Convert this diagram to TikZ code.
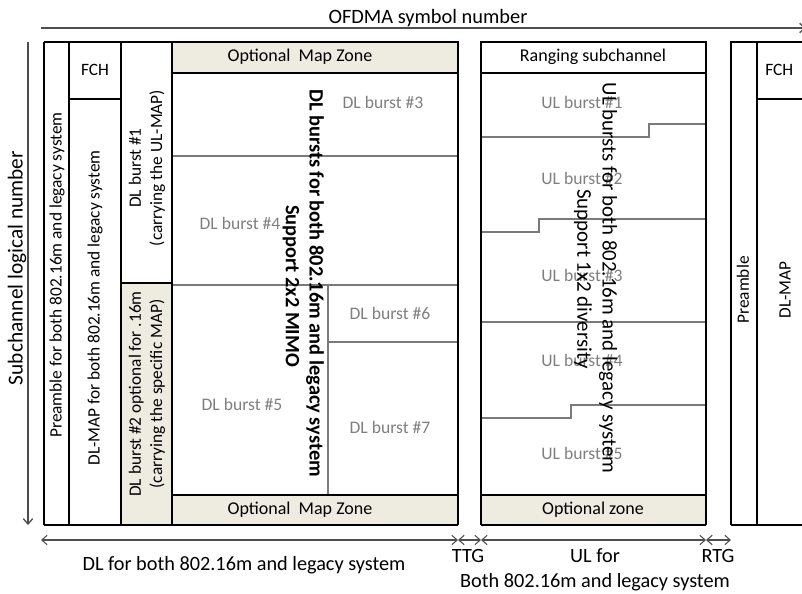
\documentclass[tikz,border=0pt]{standalone}
\usepackage{fontspec}
\setmainfont{Carlito}
\usetikzlibrary{arrows.meta}
\definecolor{zone}{HTML}{EEECE1}
\definecolor{burstgray}{HTML}{7F7F7F}
\definecolor{axisgray}{HTML}{4D4D4D}
\definecolor{linegray}{HTML}{7A7A7A}
\begin{document}
\begin{tikzpicture}[x=0.75pt,y=-0.75pt,
  frame/.style={draw=black,line width=1.5pt},
  heavy/.style={draw=black,line width=2.2pt},
  thinline/.style={draw=linegray,line width=0.8pt},
  axis/.style={draw=axisgray,line width=1pt},
  dim/.style={draw=axisgray,line width=0.8pt,{Straight Barb[length=4pt,width=7pt]}-{Straight Barb[length=4pt,width=7pt]}},
  lbl/.style={font=\fontsize{13.5}{15}\selectfont,inner sep=0pt},
  burst/.style={font=\fontsize{13.2}{15}\selectfont,text=burstgray,inner sep=0pt},
  side/.style={font=\fontsize{13}{16}\selectfont,inner sep=0pt,rotate=90,align=center},
  big/.style={font=\fontsize{15.3}{17}\selectfont\bfseries,inner sep=0pt,rotate=-90},
  bigr/.style={font=\fontsize{15.7}{17}\selectfont,inner sep=0pt,rotate=-90},
  bottom/.style={font=\fontsize{15.2}{17}\selectfont,inner sep=0pt}]
\useasboundingbox (0,0) rectangle (802,593);
% beige zones
\fill[zone] (172,42) rectangle (458,73);
\fill[zone] (172,495) rectangle (458,525);
\fill[zone] (121,283) rectangle (172,525);
\fill[zone] (481,495) rectangle (706,525);
% thin internal lines (DL)
\draw[thinline] (172,156) -- (458,156);
\draw[thinline] (172,285) -- (458,285);
\draw[thinline] (328,285) -- (328,495);
\draw[thinline] (328,342) -- (458,342);
% thin internal lines (UL)
\draw[thinline] (481,137) -- (649,137) -- (649,124) -- (706,124);
\draw[thinline] (481,232) -- (539,232) -- (539,219) -- (706,219);
\draw[thinline] (481,322) -- (706,322);
\draw[thinline] (481,418) -- (571,418) -- (571,405) -- (706,405);
% DL frame
\draw[frame] (44,42) -- (458,42) -- (458,525);
\draw[frame] (44,525) -- (44,42);
\draw[heavy] (44,525) -- (458,525);
\draw[frame] (69,42) -- (69,525);
\draw[frame] (121,42) -- (121,525);
\draw[frame] (172,42) -- (172,525);
\draw[frame] (172,73) -- (458,73);
\draw[frame] (172,495) -- (458,495);
\draw[frame] (121,283) -- (172,283);
\draw[draw=black,line width=1pt] (69,99) -- (121,99);
% UL frame
\draw[frame] (481,525) -- (481,42) -- (706,42) -- (706,525);
\draw[heavy] (481,525) -- (706,525);
\draw[frame] (481,73) -- (706,73);
\draw[frame] (481,495) -- (706,495);
% next frame (partial)
\draw[frame] (810,42) -- (731,42) -- (731,525);
\draw[heavy] (731,525) -- (810,525);
\draw[frame] (757,42) -- (757,525);
\draw[draw=black,line width=1pt] (757,99) -- (810,99);
% axes
\coordinate (topL) at (41,28);
\coordinate (topR) at (806,28);
\draw[axis,-{Straight Barb[length=4pt,width=7pt]}] (topL) -- (topR);
\node[lbl,font=\fontsize{15.3}{17}\selectfont] (ofdma) at (428,18) {OFDMA symbol number};
\coordinate (leftT) at (28,42);
\coordinate (leftB) at (28,525);
\draw[axis,-{Straight Barb[length=4pt,width=7pt]}] (leftT) -- (leftB);
\node[font=\fontsize{16}{18}\selectfont,inner sep=0pt,rotate=90] (subch) at (17,268) {Subchannel logical number};
% bottom dimension arrows
\coordinate (b0) at (41,540);
\coordinate (b1) at (458,540);
\coordinate (b2) at (481,540);
\coordinate (b3) at (706,540);
\coordinate (b4) at (731,540);
\draw[dim] (b0) -- (b1);
\draw[dim] (b1) -- (b2);
\draw[dim] (b2) -- (b3);
\draw[dim] (b3) -- (b4);
\node[bottom] (dlfor) at (244,565) {DL for both 802.16m and legacy system};
\node[bottom] (ttg) at (468,556) {TTG};
\node[bottom] (ulfor) at (595,556) {UL for};
\node[bottom] (both) at (595,582) {Both 802.16m and legacy system};
\node[bottom] (rtg) at (718,556) {RTG};
% DL left columns
\node[side] (pre) at (57,275) {Preamble for both 802.16m and legacy system};
\node[lbl,font=\fontsize{13}{15}\selectfont] (fch) at (95,70) {FCH};
\node[side] (dlmap) at (95,308) {DL-MAP for both 802.16m and legacy system};
\node[side] (b1txt) at (147,168) {DL burst \#1\\(carrying the UL-MAP)};
\node[side] (b2txt) at (147,394) {DL burst \#2 optional for .16m\\(carrying the specific MAP)};
% DL main region
\node[lbl] (omz1) at (300,57) {Optional\ \ Map Zone};
\node[lbl] (omz2) at (300,510) {Optional\ \ Map Zone};
\node[burst] (d3) at (383,102) {DL burst \#3};
\node[burst] (d4) at (240,223) {DL burst \#4};
\node[burst] (d5) at (242,404) {DL burst \#5};
\node[burst] (d6) at (390,313) {DL burst \#6};
\node[burst] (d7) at (390,427) {DL burst \#7};
\node[big] (dlbig) at (315,283) {DL bursts for both 802.16m and legacy system};
\node[big] (mimo) at (291,286) {Support 2x2 MIMO};
% UL region
\node[lbl] (rang) at (593,57) {Ranging subchannel};
\node[lbl] (optz) at (593,510) {Optional zone};
\node[burst] (u1) at (582,102) {UL burst \#1};
\node[burst] (u2) at (582,178) {UL burst \#2};
\node[burst] (u3) at (582,275) {UL burst \#3};
\node[burst] (u4) at (582,360) {UL burst \#4};
\node[burst] (u5) at (582,453) {UL burst \#5};
\node[bigr] (ulbig) at (608,278) {UL bursts for both 802.16m and legacy system};
\node[bigr] (div) at (583,279) {Support 1x2 diversity};
% next frame labels
\node[lbl,font=\fontsize{13}{15}\selectfont,anchor=west] (fch2) at (765,70) {FCH};
\node[side] (pre2) at (743,290) {Preamble};
\node[side] (dlmap2) at (785,290) {DL-MAP};
\end{tikzpicture}
\end{document}
